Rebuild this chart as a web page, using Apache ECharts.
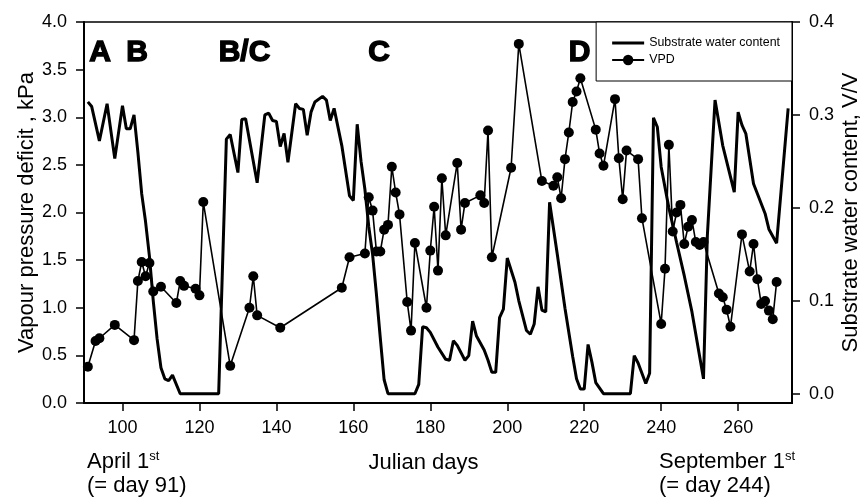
<!DOCTYPE html>
<html>
<head>
<meta charset="utf-8">
<script src="https://cdn.jsdelivr.net/npm/echarts@6/dist/echarts.min.js"></script>
<style>
  html, body { margin: 0; padding: 0; background: #fff; }
  #chart { width: 861px; height: 500px; }
</style>
</head>
<body>
<div id="chart"></div>
<script>
// Julian day tick labels on the x axis
const dayTicks = [100, 120, 140, 160, 180, 200, 220, 240, 260];
// Substrate water content tick labels (right axis, V/V)
const swcTicks = [0, 0.1, 0.2, 0.3, 0.4];

// Substrate water content (V/V) by Julian day
const swcDays = [
  91, 92, 94, 96, 98, 100, 101, 102, 103, 104, 105, 106, 107, 108, 109, 110,
  111, 112, 113, 115, 117, 119, 121, 123, 125, 127, 128, 130, 131, 132, 135,
  137, 138, 139, 140, 141, 142, 143, 145, 146, 147, 148, 149, 150, 152, 153,
  154, 155, 157, 159, 160, 161, 162, 163, 164, 165, 166, 167, 168, 169, 171,
  173, 175, 176, 177, 178, 179, 180, 182, 184, 185, 186, 187, 189, 190, 191,
  192, 194, 195, 196, 197, 198, 199, 200, 202, 203, 205, 206, 207, 208, 209,
  210, 211, 213, 215, 217, 218, 219, 220, 221, 222, 223, 225, 227, 229, 232,
  233, 234, 236, 237, 238, 239, 240, 242, 244, 246, 248, 250, 251, 252, 254,
  256, 259, 260, 261, 262, 264, 267, 268, 270, 273
];
const swcValues = [
  0.314, 0.309, 0.272, 0.312, 0.253, 0.310, 0.285, 0.285, 0.300, 0.260, 0.215, 0.185, 0.148, 0.100, 0.059, 0.028,
  0.016, 0.014, 0.020, 0.000, 0.000, 0.000, 0.000, 0.000, 0.000, 0.274, 0.279, 0.238, 0.295, 0.296, 0.227,
  0.300, 0.302, 0.294, 0.293, 0.266, 0.280, 0.249, 0.312, 0.307, 0.306, 0.278, 0.303, 0.314, 0.320, 0.316,
  0.294, 0.307, 0.267, 0.213, 0.208, 0.290, 0.250, 0.220, 0.180, 0.150, 0.107, 0.060, 0.015, 0.000, 0.000,
  0.000, 0.000, 0.000, 0.010, 0.072, 0.071, 0.066, 0.050, 0.037, 0.036, 0.057, 0.052, 0.036, 0.041, 0.078,
  0.062, 0.047, 0.036, 0.023, 0.023, 0.082, 0.091, 0.146, 0.120, 0.100, 0.068, 0.064, 0.075, 0.115, 0.090,
  0.088, 0.206, 0.150, 0.092, 0.040, 0.016, 0.005, 0.005, 0.053, 0.034, 0.012, 0.000, 0.000, 0.000, 0.000,
  0.041, 0.033, 0.011, 0.022, 0.297, 0.287, 0.244, 0.200, 0.163, 0.127, 0.088, 0.040, 0.016, 0.170, 0.316,
  0.267, 0.217, 0.303, 0.289, 0.280, 0.226, 0.194, 0.177, 0.162, 0.307
];

// Vapour pressure deficit (kPa) by Julian day
const vpdDays = [
  91, 93, 94, 98, 103, 104, 105, 106, 107, 108, 110, 114, 115, 116, 119, 120,
  121, 128, 133, 134, 135, 141, 157, 159, 163, 164, 165, 166, 167, 168, 169,
  170, 171, 172, 174, 175, 176, 179, 180, 181, 182, 183, 184, 187, 188, 189,
  193, 194, 195, 196, 201, 203, 209, 212, 213, 214, 215, 216, 217, 218, 219,
  223, 224, 225, 228, 229, 230, 231, 234, 235, 240, 241, 242, 243, 244, 245,
  246, 247, 248, 249, 250, 251, 255, 256, 257, 258, 261, 263, 264, 265, 266,
  267, 268, 269, 270
];
const vpdValues = [
  0.38, 0.65, 0.68, 0.82, 0.66, 1.28, 1.48, 1.33, 1.47, 1.17, 1.22, 1.05, 1.28, 1.23, 1.20, 1.13,
  2.11, 0.39, 1.00, 1.33, 0.92, 0.79, 1.21, 1.53, 1.57, 2.16, 2.02, 1.59, 1.59, 1.82, 1.87,
  2.48, 2.21, 1.98, 1.06, 0.76, 1.68, 1.00, 1.60, 2.06, 1.39, 2.36, 1.76, 2.52, 1.82, 2.10,
  2.18, 2.10, 2.86, 1.53, 2.47, 3.77, 2.33, 2.28, 2.37, 2.15, 2.56, 2.84, 3.16, 3.27, 3.41,
  2.87, 2.62, 2.49, 3.19, 2.57, 2.14, 2.65, 2.56, 1.94, 0.83, 1.41, 2.71, 1.80, 2.00, 2.08,
  1.67, 1.85, 1.92, 1.69, 1.66, 1.69, 1.15, 1.11, 0.98, 0.80, 1.77, 1.38, 1.67, 1.30, 1.04,
  1.07, 0.97, 0.88, 1.27
];

// Growth phase markers written across the top of the plot
const phaseLabels = ['A', 'B', 'B/C', 'C', 'D'];
const phaseLabelX = [100, 137, 244.5, 379, 579.5];

const FONT = "'Liberation Sans', Arial, Helvetica, sans-serif";
const BLACK = '#000';

const chart = echarts.init(document.getElementById('chart'), null, { renderer: 'canvas' });

const fmt1 = v => Number(v).toFixed(1);

const axisLineStyle = { show: true, lineStyle: { color: BLACK, width: 2 } };
const tickStyle = { color: BLACK, width: 1.5 };

const graphics = phaseLabels.map((t, i) => ({
  type: 'text',
  x: phaseLabelX[i],
  y: 52.5,
  z: 10,
  style: {
    text: t,
    font: 'bold 30px ' + FONT,
    fill: BLACK,
    stroke: BLACK,
    lineWidth: 1.4,
    align: 'center',
    verticalAlign: 'middle'
  }
}));

const bottomRich = {
  n: { fontSize: 22, fontFamily: FONT, color: BLACK, lineHeight: 24 },
  s: { fontSize: 13, fontFamily: FONT, color: BLACK, lineHeight: 8, verticalAlign: 'top' }
};

graphics.push(
  {
    type: 'text', x: 87, y: 450,
    style: {
      text: '{n|April 1}{s|st}\n{n|(= day 91)}',
      rich: bottomRich, align: 'left', verticalAlign: 'top', fill: BLACK
    }
  },
  {
    type: 'text', x: 659, y: 450,
    style: {
      text: '{n|September 1}{s|st}\n{n|(= day 244)}',
      rich: bottomRich, align: 'left', verticalAlign: 'top', fill: BLACK
    }
  },
  {
    type: 'text', x: 423.5, y: 451,
    style: {
      text: 'Julian days', font: '22px ' + FONT, lineHeight: 24,
      fill: BLACK, align: 'center', verticalAlign: 'top'
    }
  }
);

const option = {
  animation: false,
  backgroundColor: '#fff',
  textStyle: { fontFamily: FONT, color: BLACK },
  grid: {
    left: 84, right: 69, top: 22, bottom: 97,
    show: true, borderColor: BLACK, borderWidth: 1.5,
    outerBoundsMode: 'none'
  },
  legend: {
    data: [
      // plain line sample for the water content trace
      { name: 'Substrate water content', icon: 'path://M0,0H32V3H0Z' },
      { name: 'VPD' }
    ],
    orient: 'vertical',
    right: 69,
    top: 22,
    padding: [15, 12, 15, 15],
    itemGap: 5,
    itemWidth: 32,
    itemHeight: 13,
    symbolKeepAspect: true,
    backgroundColor: '#fff',
    borderColor: BLACK,
    borderWidth: 1,
    borderRadius: 0,
    textStyle: { fontFamily: FONT, fontSize: 12.4, color: BLACK }
  },
  xAxis: {
    type: 'value',
    min: 90,
    max: 274,
    axisLine: axisLineStyle,
    axisTick: { show: true, inside: false, length: 8, lineStyle: tickStyle, customValues: dayTicks },
    axisLabel: { customValues: dayTicks, fontSize: 18, color: BLACK, fontFamily: FONT, margin: 16 },
    splitLine: { show: false }
  },
  yAxis: [
    {
      type: 'value',
      position: 'left',
      min: 0,
      max: 4,
      interval: 0.5,
      axisLine: axisLineStyle,
      axisTick: { show: true, inside: false, length: 8, lineStyle: tickStyle },
      axisLabel: { formatter: fmt1, fontSize: 18, color: BLACK, fontFamily: FONT, margin: 17 },
      splitLine: { show: false },
      name: 'Vapour pressure deficit , kPa',
      nameLocation: 'middle',
      nameRotate: 90,
      nameGap: 46,
      nameMoveOverlap: false,
      nameTextStyle: { fontSize: 22, fontFamily: FONT, color: BLACK }
    },
    {
      type: 'value',
      position: 'right',
      min: -0.01,
      max: 0.4,
      axisLine: axisLineStyle,
      axisTick: { show: true, inside: false, length: 8, lineStyle: tickStyle, customValues: swcTicks },
      axisLabel: { customValues: swcTicks, formatter: fmt1, fontSize: 18, color: BLACK, fontFamily: FONT, margin: 17 },
      splitLine: { show: false },
      name: 'Substrate water content, V/V',
      nameLocation: 'middle',
      nameRotate: 90,
      nameGap: 48,
      nameMoveOverlap: false,
      nameTextStyle: { fontSize: 22, fontFamily: FONT, color: BLACK }
    }
  ],
  series: [
    {
      name: 'Substrate water content',
      type: 'line',
      yAxisIndex: 1,
      data: swcDays.map((d, i) => [d, swcValues[i]]),
      symbol: 'none',
      lineStyle: { color: BLACK, width: 3 },
      itemStyle: { color: BLACK },
      emphasis: { disabled: true },
      z: 2
    },
    {
      name: 'VPD',
      type: 'line',
      yAxisIndex: 0,
      data: vpdDays.map((d, i) => [d, vpdValues[i]]),
      symbol: 'circle',
      symbolSize: 10,
      showSymbol: true,
      showAllSymbol: true,
      lineStyle: { color: BLACK, width: 1.6 },
      itemStyle: { color: BLACK },
      emphasis: { disabled: true },
      z: 3
    }
  ],
  graphic: graphics
};

chart.setOption(option);
</script>
</body>
</html>
